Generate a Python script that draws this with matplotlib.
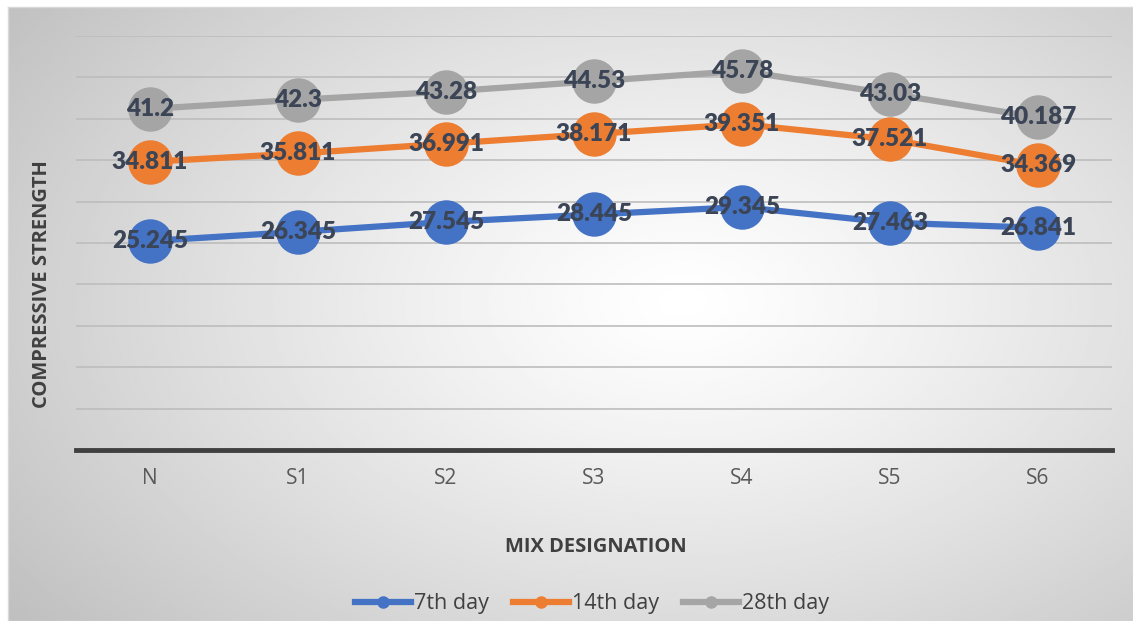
import numpy as np
import matplotlib.pyplot as plt
from matplotlib.lines import Line2D

# data
mixes = ['N', 'S1', 'S2', 'S3', 'S4', 'S5', 'S6']
day7 = [25.245, 26.345, 27.545, 28.445, 29.345, 27.463, 26.841]
day14 = [34.811, 35.811, 36.991, 38.171, 39.351, 37.521, 34.369]
day28 = [41.2, 42.3, 43.28, 44.53, 45.78, 43.03, 40.187]
series_names = ['7th day', '14th day', '28th day']
colors = ['#4472C4', '#ED7D31', '#A5A5A5']

plt.rcParams['font.family'] = ['Open Sans', 'DejaVu Sans']

W, H = 1133, 621
fig = plt.figure(figsize=(W / 100, H / 100), dpi=100)

# background panel with radial gradient
bg = fig.add_axes([8 / W, 0, 1 - 8 / W, 1 - 7 / H])
nx, ny = 400, 220
xx, yy = np.meshgrid(np.linspace(0, 1, nx), np.linspace(0, 1, ny))
r = np.sqrt(((xx - 0.6) / 0.75) ** 2 + ((yy - 0.48) / 0.85) ** 2)
shade = 1 - 0.25 * np.clip(r, 0, 1) ** 1.2
bg.imshow(shade, cmap='gray', vmin=0, vmax=1, extent=[0, 1, 0, 1],
          aspect='auto', origin='upper', interpolation='bilinear')
bg.set_xticks([])
bg.set_yticks([])
for s in bg.spines.values():
    s.set_color('#d9d9d9')
    s.set_linewidth(1)

ax = fig.add_axes([76 / W, (H - 450) / H, (1112 - 76) / W, (450 - 36) / H])
ax.patch.set_alpha(0)
x = np.arange(len(mixes))

for vals, name, c in zip([day7, day14, day28], series_names, colors):
    ax.plot(x, vals, color=c, lw=4.5, marker='o', markersize=32,
            markeredgewidth=0, label=name, zorder=3)
    for xi, v in zip(x, vals):
        ax.text(xi, v, f'{v:g}', ha='center', va='center', fontsize=17.5,
                fontweight='heavy', color='#3b4556', family=['Lato', 'DejaVu Sans'],
                zorder=4)

ax.set_xlim(-0.5, len(mixes) - 0.5)
ax.set_ylim(0, 50)
ax.set_yticks(np.arange(0, 51, 5))
ax.yaxis.grid(True, color='#bdbdbd', lw=1.2)
ax.set_axisbelow(True)
ax.tick_params(axis='y', length=0, labelleft=False)
ax.tick_params(axis='x', length=0, pad=13, labelsize=15, labelcolor='#595959')
ax.set_xticks(x)
ax.set_xticklabels(mixes)
for s in ['top', 'right', 'left']:
    ax.spines[s].set_visible(False)
ax.spines['bottom'].set_color('#404040')
ax.spines['bottom'].set_linewidth(3.5)

fig.text(596 / W, 1 - 547 / H, 'MIX DESIGNATION', ha='center', va='center',
         fontsize=14.5, fontweight='bold', color='#404040')
fig.text(42 / W, 1 - 284 / H, 'COMPRESSIVE STRENGTH', ha='center', va='center',
         rotation=90, fontsize=14.5, fontweight='bold', color='#404040')

hs = [Line2D([], [], color=c, lw=4.5, marker='o', markersize=8) for c in colors]
leg = fig.legend(hs, series_names, loc='center', bbox_to_anchor=(592 / W, 1 - 604 / H),
                 ncol=3, frameon=False, fontsize=15.5, handlelength=2.6,
                 handletextpad=0.15, columnspacing=1.1)
for t in leg.get_texts():
    t.set_color('#404040')

fig.savefig('out.png', dpi=100)
